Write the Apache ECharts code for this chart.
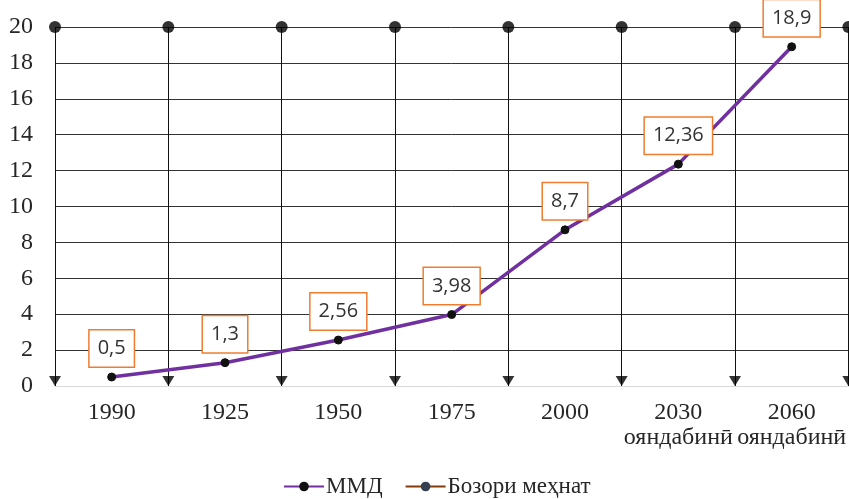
<!DOCTYPE html>
<html>
<head>
<meta charset="utf-8">
<script src="https://cdn.jsdelivr.net/npm/echarts@6/dist/echarts.min.js"></script>
<style>
  html, body { margin: 0; padding: 0; background: #fff; }
  #chart { width: 849px; height: 499px; }
</style>
</head>
<body>
<div id="chart"></div>
<script>
// categories and values
var years = ['1990', '1925', '1950', '1975', '2000', '2030\nояндабинӣ', '2060\nояндабинӣ'];
var mmdValues = [0.5, 1.3, 2.56, 3.98, 8.7, 12.36, 18.9];
var laborValues = [];
// category boundaries, with the dots on top and arrows at the bottom
var edges = ['b0', 'b1', 'b2', 'b3', 'b4', 'b5', 'b6', 'b7'];
var edgeTop = [20, 20, 20, 20, 20, 20, 20, 20];
var edgeBottom = [0, 0, 0, 0, 0, 0, 0, 0];

var serif = 'Liberation Serif';
var myChart = echarts.init(document.getElementById('chart'));

var hLineColors = ['#d9d9d9', '#333', '#333', '#333', '#333', '#333', '#333', '#333', '#333', '#333', '#333'];

var option = {
	animation: false,
	textStyle: {
		fontFamily: serif
	},
	grid: {
		left: 55,
		right: -2,
		top: 27,
		bottom: 113
	},
	legend: {
		left: 278,
		top: 470,
		itemWidth: 40,
		itemHeight: 12,
		itemGap: 22,
		data: ['ММД', 'Бозори меҳнат'],
		textStyle: {
			fontFamily: serif,
			fontSize: 23,
			color: '#262626',
			padding: [0, 0, 0, -3]
		}
	},
	xAxis: [{
		type: 'category',
		data: years,
		boundaryGap: true,
		axisLine: { lineStyle: { color: '#d9d9d9', width: 1 } },
		axisTick: { show: false },
		axisLabel: {
			interval: 0,
			margin: 14,
			fontFamily: serif,
			fontSize: 24,
			lineHeight: 25,
			color: '#262626'
		},
		splitLine: {
			show: true,
			interval: 0,
			lineStyle: { color: '#111', width: 1 }
		}
	}, {
		type: 'category',
		data: edges,
		boundaryGap: false,
		show: false
	}],
	yAxis: {
		type: 'value',
		min: 0,
		max: 20,
		interval: 2,
		axisLine: { show: false },
		axisTick: { show: false },
		axisLabel: {
			margin: 22,
			fontFamily: serif,
			fontSize: 24,
			color: '#262626'
		},
		splitLine: {
			lineStyle: { color: hLineColors, width: 1 }
		}
	},
	series: [{
		name: 'edgeTop',
		type: 'scatter',
		xAxisIndex: 1,
		data: edgeTop,
		symbol: 'circle',
		symbolSize: 12,
		clip: false,
		itemStyle: { color: '#000' },
		z: 3
	}, {
		name: 'edgeBottom',
		type: 'scatter',
		xAxisIndex: 1,
		data: edgeBottom,
		symbol: 'triangle',
		symbolSize: [12, 10],
		symbolRotate: 180,
		symbolOffset: [0, -5],
		clip: false,
		itemStyle: { color: '#000' },
		z: 3
	}, {
		name: 'ММД',
		type: 'line',
		data: mmdValues,
		symbol: 'circle',
		symbolSize: 8,
		lineStyle: { color: '#7030a0', width: 3.5 },
		itemStyle: { color: '#111', borderColor: '#111' },
		label: {
			show: true,
			position: 'top',
			distance: 6,
			formatter: function(p) {
				return String(p.value).replace('.', ',');
			},
			fontFamily: 'Open Sans',
			fontSize: 20,
			lineHeight: 20,
			color: '#333',
			backgroundColor: '#fff',
			borderColor: '#ed7d31',
			borderWidth: 1.5,
			padding: [8, 8]
		},
		z: 5
	}, {
		name: 'Бозори меҳнат',
		type: 'line',
		data: laborValues,
		symbol: 'circle',
		symbolSize: 8,
		lineStyle: { color: '#843c0c', width: 3.5 },
		itemStyle: { color: '#333f50', borderColor: '#333f50' }
	}]
};
myChart.setOption(option);
</script>
</body>
</html>
